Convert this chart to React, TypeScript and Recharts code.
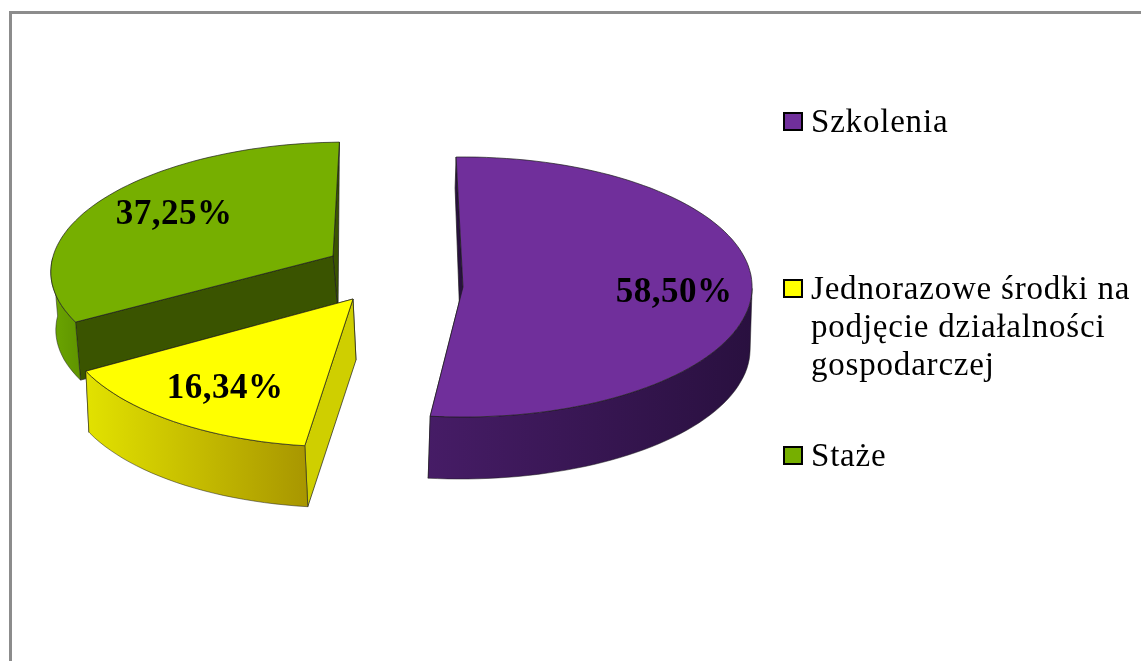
import React from 'react';
import { PieChart, Pie, Legend } from 'recharts';

const categories = ['Szkolenia', 'Jednorazowe środki na podjęcie działalności gospodarczej', 'Staże'];
const values = [58.5, 16.34, 37.25];
const legendLines = [['Szkolenia'], ['Jednorazowe środki na', 'podjęcie działalności', 'gospodarczej'], ['Staże']];

// Flat colour of each top face, then the wall gradient and the cut face
const topColors = ['#702F9B', '#FFFF00', '#76AF00'];
const wallFrom = ['#461C66', '#E2E200', '#6CA600'];
const wallTo = ['#29103F', '#A89600', '#5F9400'];
const cutColors = ['#29103F', '#CFCF00', '#3A5400'];

// Pie slice placement relative to the pie centre
const PIE_CX = 400;
const PIE_CY = 300;
const PIE_R = 290;
const explodeX = [63, -47, -67];
const explodeY = [-13, -1, -44];
const radiusX = [0.997, 0.997, 0.965];
const radiusY = [130, 133, 123];
const perspective = [0, 0.1, 0.08];
const lean = [0, 0.08, 0.11];
const depth = [62, 61, 58];
const dropX = [-2, 3, 5];
const startDrop = [0.5, 1, 1];
const endDrop = [1, 1, 0];
const labelX = [274, -175, -226];
const labelY = [-10, 86, -88];

const serif = '"Liberation Serif", "Times New Roman", serif';

// Pie is drawn green first so yellow lands on top of the green cut face
const drawOrder = [2, 0, 1];
const pieData = drawOrder.map((i) => ({ name: categories[i], value: values[i], idx: i }));

const SlabSector = (props: any) => {
  const { cx, cy, outerRadius, startAngle, endAngle } = props;
  const i = props.idx ?? props.payload?.idx;
  const ox = cx + explodeX[i];
  const oy = cy + explodeY[i];
  const rx = outerRadius * radiusX[i];

  const project = (deg: number, z = 0): [number, number] => {
    const t = ((90 - deg) * Math.PI) / 180;
    const v = Math.cos(t);
    const p = 1 / (1 + perspective[i] * v);
    const yy = -radiusY[i] * v * p;
    return [ox + rx * Math.sin(t) * p - lean[i] * yy + dropX[i] * z, oy + yy + depth[i] * z];
  };
  const apex = (z = 0): [number, number] => [ox + dropX[i] * z, oy + depth[i] * z];
  const toPath = (pts: [number, number][]) =>
    'M' + pts.map((q) => q[0].toFixed(1) + ' ' + q[1].toFixed(1)).join('L') + 'Z';

  const a0 = Math.max(startAngle, endAngle);
  const a1 = Math.min(startAngle, endAngle);
  const arc: number[] = [];
  for (let a = a0; a > a1; a -= 2) arc.push(a);
  arc.push(a1);

  // outer wall only exists on the front half of the ellipse
  const front = arc.filter((a) => Math.sin((a * Math.PI) / 180) <= 0);
  const wall = [...front.map((a) => project(a)), ...[...front].reverse().map((a) => project(a, 1))];
  const top = [apex(), ...arc.map((a) => project(a))];

  const startFace = [project(a0), apex(), apex(1), project(a0, startDrop[i])];
  const endFace = [project(a1), apex(), apex(1), project(a1, endDrop[i])];

  const gid = 'wall-' + i;
  return (
    <g>
      <defs>
        <linearGradient id={gid} x1="0" y1="0" x2="1" y2="0">
          <stop offset="0%" stopColor={wallFrom[i]} />
          <stop offset="100%" stopColor={wallTo[i]} />
        </linearGradient>
      </defs>
      <path d={toPath(endFace)} fill={cutColors[i]} stroke="#1c1c1c" strokeWidth={0.7} />
      <path d={toPath(startFace)} fill={cutColors[i]} stroke="#1c1c1c" strokeWidth={0.7} />
      {wall.length > 2 && <path d={toPath(wall)} fill={`url(#${gid})`} stroke="#1c1c1c" strokeWidth={0.5} />}
      <path d={toPath(top)} fill={topColors[i]} stroke="#1c1c1c" strokeWidth={0.7} />
    </g>
  );
};

const renderLabel = (props: any) => {
  const i = props.idx ?? props.payload?.idx;
  return (
    <text
      x={PIE_CX + labelX[i]}
      y={PIE_CY + labelY[i]}
      textAnchor="middle"
      dominantBaseline="central"
      fontFamily={serif}
      fontWeight="bold"
      fontSize={35}
      letterSpacing={0.5}
      fill="#000"
    >
      {values[i].toFixed(2).replace('.', ',') + '%'}
    </text>
  );
};

const legendTops = [102, 269, 436];

const renderLegend = () => (
  <div style={{ position: 'relative', width: 358, height: 400, fontFamily: serif, fontSize: 33, color: '#000' }}>
    {legendLines.map((lines, i) => (
      <div key={i} style={{ position: 'absolute', left: 0, top: legendTops[i] }}>
        <div
          style={{
            position: 'absolute',
            left: 0,
            top: 10,
            width: 16,
            height: 15,
            background: topColors[i],
            border: '2px solid #000',
          }}
        />
        {lines.map((line) => (
          <div key={line} style={{ marginLeft: 28, lineHeight: '38px', letterSpacing: 0.8, whiteSpace: 'nowrap' }}>
            {line}
          </div>
        ))}
      </div>
    ))}
  </div>
);

export default function App() {
  return (
    <div style={{ position: 'absolute', left: 0, top: 0, width: 1141, height: 661, overflow: 'hidden', background: '#fff' }}>
      <div
        style={{
          position: 'absolute',
          left: 9,
          top: 11,
          width: 1140,
          height: 660,
          borderLeft: '3px solid #8c8c8c',
          borderTop: '3px solid #8c8c8c',
        }}
      />
      <div style={{ position: 'absolute', left: 0, top: 0, filter: 'blur(0.6px)' }}>
        <PieChart width={1141} height={661} margin={{ top: 0, right: 0, bottom: 0, left: 0 }}>
          <Pie
            data={pieData}
            dataKey="value"
            nameKey="name"
            cx={PIE_CX}
            cy={PIE_CY}
            outerRadius={PIE_R}
            startAngle={-149}
            endAngle={-509}
            stroke="none"
            shape={SlabSector}
            label={renderLabel}
            labelLine={false}
            isAnimationActive={false}
          />
          <Legend
            content={renderLegend}
            layout="vertical"
            align="right"
            verticalAlign="top"
            wrapperStyle={{ left: 783, right: 'auto', top: 0, width: 358 }}
          />
        </PieChart>
      </div>
    </div>
  );
}
